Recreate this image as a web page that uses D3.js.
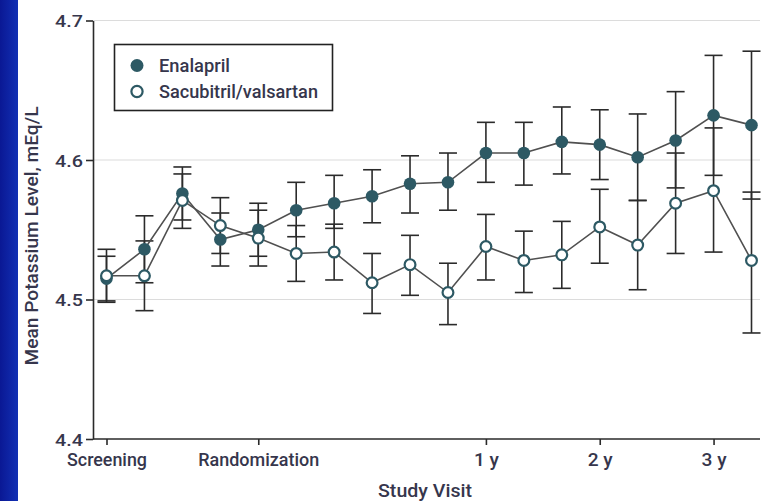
<!DOCTYPE html>
<html>
<head>
<meta charset="utf-8">
<script src="https://cdn.jsdelivr.net/npm/d3@7"></script>
<style>
  html, body { margin: 0; padding: 0; background: #fff; }
  svg { display: block; }
  text { font-family: Roboto, "Liberation Sans", sans-serif; font-weight: 500; fill: #36364c; }
</style>
</head>
<body>
<svg id="chart" width="764" height="501"></svg>
<script>
// Study visits (x index) and labelled visits
const visitIndex = d3.range(18);
const tickIndex = [0, 4, 10, 13, 16];
const tickLabels = ["Screening", "Randomization", "1 y", "2 y", "3 y"];
const yTicks = [4.4, 4.5, 4.6, 4.7];

// Mean serum potassium with 95% CI, enalapril arm
const enalaprilMean = [4.515, 4.536, 4.576, 4.543, 4.550, 4.564, 4.569, 4.574, 4.583, 4.584, 4.605, 4.605, 4.613, 4.611, 4.602, 4.614, 4.632, 4.625];
const enalaprilLow  = [4.498, 4.512, 4.557, 4.524, 4.531, 4.545, 4.551, 4.555, 4.562, 4.564, 4.584, 4.582, 4.590, 4.586, 4.571, 4.580, 4.589, 4.572];
const enalaprilHigh = [4.531, 4.560, 4.595, 4.562, 4.569, 4.584, 4.589, 4.593, 4.603, 4.605, 4.627, 4.627, 4.638, 4.636, 4.633, 4.649, 4.675, 4.678];

// Mean serum potassium with 95% CI, sacubitril/valsartan arm
const sacubitrilMean = [4.517, 4.517, 4.571, 4.553, 4.544, 4.533, 4.534, 4.512, 4.525, 4.505, 4.538, 4.528, 4.532, 4.552, 4.539, 4.569, 4.578, 4.528];
const sacubitrilLow  = [4.499, 4.492, 4.551, 4.533, 4.524, 4.513, 4.514, 4.490, 4.503, 4.482, 4.514, 4.505, 4.508, 4.526, 4.507, 4.533, 4.534, 4.476];
const sacubitrilHigh = [4.536, 4.542, 4.590, 4.573, 4.564, 4.553, 4.554, 4.533, 4.546, 4.526, 4.561, 4.549, 4.556, 4.579, 4.571, 4.605, 4.623, 4.577];

const seriesNames = ["Enalapril", "Sacubitril/valsartan"];
const teal = "#2d5964";

const svg = d3.select("#chart");

// squeeze a label to a set width (condensed look)
function fit(sel, w) {
  sel.attr("textLength", w).attr("lengthAdjust", "spacingAndGlyphs");
}

// blue side band
const defs = svg.append("defs");
const grad = defs.append("linearGradient").attr("id", "band").attr("x1", 0).attr("x2", 1).attr("y1", 0).attr("y2", 0);
grad.append("stop").attr("offset", 0).attr("stop-color", "#0a1894");
grad.append("stop").attr("offset", 1).attr("stop-color", "#1230b4");
svg.append("rect").attr("x", 0).attr("y", 0).attr("width", 18).attr("height", 501).attr("fill", "url(#band)");

const x = d3.scaleLinear().domain([0, 17]).range([106.5, 751.5]);
const y = d3.scaleLinear().domain([4.4, 4.7]).range([439, 20.5]);
const plotLeft = 93, plotRight = 760;

// gridlines
svg.append("g").selectAll("line").data(yTicks.slice(1)).join("line")
  .attr("x1", plotLeft).attr("x2", plotRight)
  .attr("y1", d => y(d)).attr("y2", d => y(d))
  .attr("stroke", "#dcdcdc").attr("stroke-width", 1.2);

// y axis
const yAxis = svg.append("g").attr("transform", `translate(${plotLeft},0)`)
  .call(d3.axisLeft(y).tickValues(yTicks).tickFormat(d3.format(".1f")).tickSize(7).tickSizeOuter(0));
yAxis.select(".domain").attr("stroke", "#2a2a2a").attr("stroke-width", 1.6);
yAxis.selectAll(".tick line").attr("stroke", "#2a2a2a").attr("stroke-width", 1.6);
yAxis.selectAll(".tick text").attr("x", -10).attr("dy", "0.36em")
  .style("font-size", "17px").attr("fill", "#36364c").call(fit, 28);

// x axis
const xWidths = [80, 121, 25, 25, 25];
const xAxis = svg.append("g").attr("transform", `translate(0,439)`)
  .call(d3.axisBottom(x).tickValues(tickIndex).tickFormat((d, i) => tickLabels[i]).tickSize(6).tickSizeOuter(0));
xAxis.select(".domain").attr("d", `M${plotLeft},0H${plotRight}`).attr("stroke", "#2a2a2a").attr("stroke-width", 1.6);
xAxis.selectAll(".tick line").attr("stroke", "#2a2a2a").attr("stroke-width", 1.6);
xAxis.selectAll(".tick text").attr("y", 27).attr("dy", 0)
  .style("font-size", "18px").attr("fill", "#36364c")
  .each(function(d, i) { d3.select(this).call(fit, xWidths[i]); });

// axis titles
svg.append("text").attr("x", 425).attr("y", 497).attr("text-anchor", "middle")
  .style("font-size", "18px").text("Study Visit").call(fit, 94);
svg.append("text").attr("transform", "translate(38,236) rotate(-90)").attr("text-anchor", "middle")
  .style("font-size", "18px").text("Mean Potassium Level, mEq/L").call(fit, 259);

function drawErrors(mean, low, high) {
  const g = svg.append("g");
  const rows = visitIndex.map(i => ({ i, lo: low[i], hi: high[i] }));
  g.selectAll("line.v").data(rows).join("line").attr("class", "v")
    .attr("x1", d => x(d.i)).attr("x2", d => x(d.i))
    .attr("y1", d => y(d.lo)).attr("y2", d => y(d.hi))
    .attr("stroke", "#2b2b2b").attr("stroke-width", 1.6);
  ["lo", "hi"].forEach(k => {
    g.selectAll("line." + k).data(rows).join("line").attr("class", k)
      .attr("x1", d => x(d.i) - 9).attr("x2", d => x(d.i) + 9)
      .attr("y1", d => y(d[k])).attr("y2", d => y(d[k]))
      .attr("stroke", "#2b2b2b").attr("stroke-width", 1.6);
  });
}
function drawLine(mean) {
  svg.append("path").datum(visitIndex)
    .attr("d", d3.line().x(i => x(i)).y(i => y(mean[i])))
    .attr("fill", "none").attr("stroke", "#505050").attr("stroke-width", 1.6);
}
function drawPoints(mean, filled) {
  svg.append("g").selectAll("circle").data(visitIndex).join("circle")
    .attr("cx", i => x(i)).attr("cy", i => y(mean[i]))
    .attr("r", filled ? 6.3 : 5.4)
    .attr("fill", filled ? teal : "#fff")
    .attr("stroke", teal).attr("stroke-width", filled ? 0 : 2.2);
}

drawErrors(enalaprilMean, enalaprilLow, enalaprilHigh);
drawErrors(sacubitrilMean, sacubitrilLow, sacubitrilHigh);
drawLine(enalaprilMean);
drawLine(sacubitrilMean);
drawPoints(enalaprilMean, true);
drawPoints(sacubitrilMean, false);

// legend
const legendWidths = [71, 159];
const legend = svg.append("g");
legend.append("rect").attr("x", 114.5).attr("y", 44.5).attr("width", 218).attr("height", 66)
  .attr("fill", "#fff").attr("stroke", "#222").attr("stroke-width", 1.6);
seriesNames.forEach((name, k) => {
  const cy = 65.5 + k * 26;
  legend.append("circle").attr("cx", 137).attr("cy", cy).attr("r", k === 0 ? 6.5 : 5.6)
    .attr("fill", k === 0 ? teal : "#fff").attr("stroke", teal).attr("stroke-width", k === 0 ? 0 : 2.2);
  legend.append("text").attr("x", 159).attr("y", cy).attr("dy", "0.36em")
    .style("font-size", "19px").text(name).call(fit, legendWidths[k]);
});
</script>
</body>
</html>
